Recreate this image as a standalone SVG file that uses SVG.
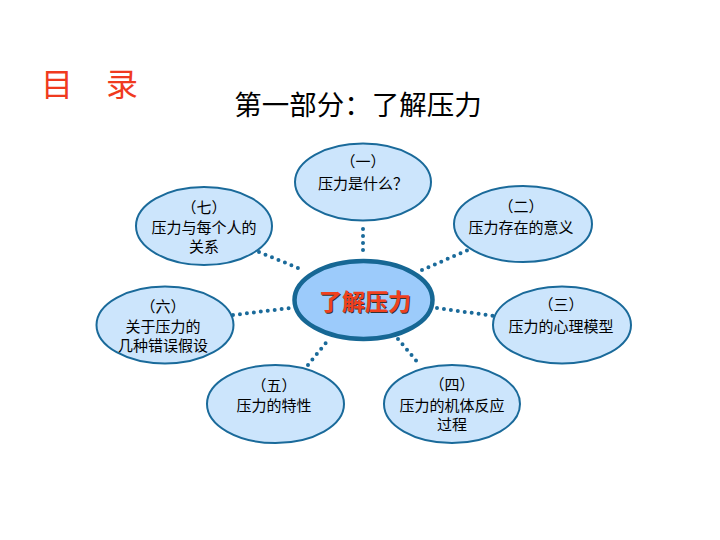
<svg xmlns="http://www.w3.org/2000/svg" width="720" height="540" viewBox="0 0 720 540">
<style>
.n{fill:#cce5fc;stroke:#1a6a9a;stroke-width:2}
.c{fill:#9ccbfb;stroke:#166794;stroke-width:4.5}
.t{font-family:"Liberation Sans","Noto Sans CJK SC",sans-serif;font-size:15px;fill:#000;text-anchor:middle}
.d{stroke:#1a6a9a;stroke-width:4;stroke-linecap:round;stroke-dasharray:0 7;fill:none}
</style>
<rect width="720" height="540" fill="#fff"/>
<g id="title">
<text x="41" y="96" font-family="'Noto Sans CJK SC',sans-serif" font-size="32" fill="#f03a1e">目</text>
<text x="106" y="96" font-family="'Noto Sans CJK SC',sans-serif" font-size="32" fill="#f03a1e">录</text>
</g>
<g id="subtitle">
<text x="358" y="115" font-family="'Noto Sans CJK SC',sans-serif" font-size="27.5" fill="#000" text-anchor="middle">第一部分：了解压力</text>
</g>
<g id="connectors">
<line class="d" x1="363" y1="229" x2="363" y2="253"/>
<line class="d" x1="259" y1="252" x2="303" y2="270"/>
<line class="d" x1="422" y1="270" x2="468" y2="250"/>
<line class="d" x1="437" y1="308" x2="494" y2="316"/>
<line class="d" x1="233" y1="315" x2="290" y2="308"/>
<line class="d" x1="308" y1="365" x2="329" y2="339"/>
<line class="d" x1="398" y1="339" x2="419" y2="364"/>
</g>
<g id="n1">
<ellipse class="n" cx="363" cy="182" rx="68" ry="38.5"/>
<text class="t" x="363" y="167">（一）</text>
<text class="t" x="363" y="189">压力是什么？</text>
</g>
<g id="n7">
<ellipse class="n" cx="204" cy="226" rx="68" ry="39"/>
<text class="t" x="204" y="213">（七）</text>
<text class="t" x="204" y="233">压力与每个人的</text>
<text class="t" x="204" y="252">关系</text>
</g>
<g id="n2">
<ellipse class="n" cx="523" cy="224" rx="69" ry="38"/>
<text class="t" x="521" y="212">（二）</text>
<text class="t" x="521" y="233">压力存在的意义</text>
</g>
<g id="n3">
<ellipse class="n" cx="562" cy="325" rx="69" ry="38.5"/>
<text class="t" x="561" y="310">（三）</text>
<text class="t" x="561" y="332">压力的心理模型</text>
</g>
<g id="n6">
<ellipse class="n" cx="165" cy="325" rx="68.5" ry="38.5"/>
<text class="t" x="163" y="312">（六）</text>
<text class="t" x="163" y="332">关于压力的</text>
<text class="t" x="163" y="351">几种错误假设</text>
</g>
<g id="n5">
<ellipse class="n" cx="275.5" cy="404" rx="68.5" ry="39"/>
<text class="t" x="274" y="391">（五）</text>
<text class="t" x="274" y="411">压力的特性</text>
</g>
<g id="n4">
<ellipse class="n" cx="452" cy="404" rx="68" ry="39"/>
<text class="t" x="452" y="390">（四）</text>
<text class="t" x="452" y="411">压力的机体反应</text>
<text class="t" x="452" y="430">过程</text>
</g>
<g id="center">
<ellipse class="c" cx="363.5" cy="300" rx="69" ry="39"/>
<text x="366" y="311" font-family="'Noto Sans CJK SC',sans-serif" font-size="23" font-weight="bold" fill="#333" text-anchor="middle">了解压力</text>
<text x="365" y="310" font-family="'Noto Sans CJK SC',sans-serif" font-size="23" font-weight="bold" fill="#f0401e" text-anchor="middle">了解压力</text>
</g>
</svg>
